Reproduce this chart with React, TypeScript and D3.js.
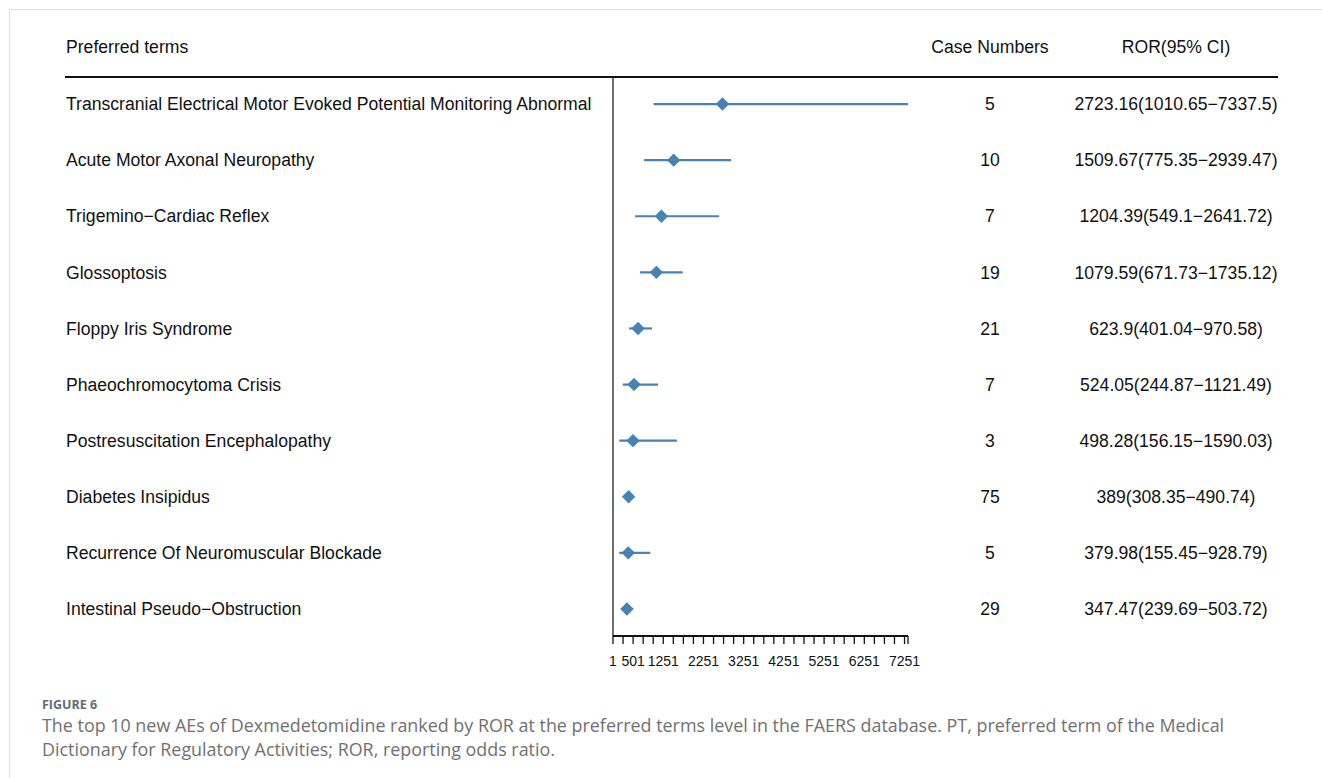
import * as d3 from 'd3'

const terms = [
  'Transcranial Electrical Motor Evoked Potential Monitoring Abnormal',
  'Acute Motor Axonal Neuropathy',
  'Trigemino\u2212Cardiac Reflex',
  'Glossoptosis',
  'Floppy Iris Syndrome',
  'Phaeochromocytoma Crisis',
  'Postresuscitation Encephalopathy',
  'Diabetes Insipidus',
  'Recurrence Of Neuromuscular Blockade',
  'Intestinal Pseudo\u2212Obstruction',
]
const caseNumbers = [5, 10, 7, 19, 21, 7, 3, 75, 5, 29]
const ror = [2723.16, 1509.67, 1204.39, 1079.59, 623.9, 524.05, 498.28, 389, 379.98, 347.47]
const lower = [1010.65, 775.35, 549.1, 671.73, 401.04, 244.87, 156.15, 308.35, 155.45, 239.69]
const upper = [7337.5, 2939.47, 2641.72, 1735.12, 970.58, 1121.49, 1590.03, 490.74, 928.79, 503.72]
const tickLabels = [1, 501, 1251, 2251, 3251, 4251, 5251, 6251, 7251]
const minorTicks = d3.range(1, 7252, 250)

const W = 1322
const H = 778
const FONT = '"Liberation Sans", Arial, sans-serif'
const BLUE = '#4682b4'

export default function App() {
  const x = d3.scaleLinear().domain([1, 7337.5]).range([613, 908])
  const y = d3.scaleBand<number>().domain(d3.range(terms.length)).range([76, 637])
  const rowY = (i: number) => (y(i) ?? 0) + y.bandwidth() / 2
  const diamond = d3.symbol().type(d3.symbolDiamond2).size(115)
  const axisY = 636
  const fmtCI = (i: number) => `${ror[i]}(${lower[i]}\u2212${upper[i]})`

  return (
    <>
      <style>{`body{margin:0}`}</style>
      <svg width={W} height={H} style={{ display: 'block', background: '#fff' }}>
        {/* frame */}
        <line x1={9} x2={W} y1={9.5} y2={9.5} stroke="#dcdcdc" />
        <line x1={9.5} x2={9.5} y1={9} y2={H} stroke="#dcdcdc" />

        {/* headers */}
        <g fontFamily={FONT} fontSize={17.6} fill="#111">
          <text x={66} y={53}>Preferred terms</text>
          <text x={990} y={53} textAnchor="middle">Case Numbers</text>
          <text x={1176} y={53} textAnchor="middle">ROR(95% CI)</text>
        </g>
        <line x1={65} x2={1278} y1={77} y2={77} stroke="#111" strokeWidth={2} />

        {/* rows */}
        <g fontFamily={FONT} fontSize={17.6} fill="#111">
          {terms.map((t, i) => (
            <g key={t}>
              <text x={66} y={rowY(i)} dy="0.35em">{t}</text>
              <text x={990} y={rowY(i)} dy="0.35em" textAnchor="middle">{caseNumbers[i]}</text>
              <text x={1176} y={rowY(i)} dy="0.35em" textAnchor="middle">{fmtCI(i)}</text>
            </g>
          ))}
        </g>

        {/* reference line */}
        <line x1={x(1)} x2={x(1)} y1={77} y2={axisY} stroke="#222" strokeWidth={1.3} />

        {/* CI lines and points */}
        {terms.map((t, i) => (
          <g key={`m-${t}`}>
            <line x1={x(lower[i])} x2={x(upper[i])} y1={rowY(i)} y2={rowY(i)} stroke={BLUE} strokeWidth={2.2} />
            <path d={diamond() ?? ''} transform={`translate(${x(ror[i])},${rowY(i)})`} fill={BLUE} />
          </g>
        ))}

        {/* x axis */}
        <line x1={x(1)} x2={x(7337.5)} y1={axisY} y2={axisY} stroke="#111" strokeWidth={2} />
        {[...minorTicks, 7337.5].map((v) => (
          <line key={`t${v}`} x1={x(v)} x2={x(v)} y1={axisY} y2={axisY + 8} stroke="#111" strokeWidth={1.3} />
        ))}
        <g fontFamily={FONT} fontSize={14} fill="#111">
          {tickLabels.map((v) => (
            <text key={`l${v}`} x={x(v)} y={axisY + 30} textAnchor="middle">{v}</text>
          ))}
        </g>

        {/* caption */}
        <text x={42} y={709} fontFamily='"Open Sans", sans-serif' fontSize={12.5} fontWeight={700} fill="#5f6b76">
          FIGURE 6
        </text>
        <g fontFamily='"Open Sans", sans-serif' fontSize={17.9} fill="#707070">
          <text x={42} y={732}>
            The top 10 new AEs of Dexmedetomidine ranked by ROR at the preferred terms level in the FAERS database. PT, preferred term of the Medical
          </text>
          <text x={42} y={756}>Dictionary for Regulatory Activities; ROR, reporting odds ratio.</text>
        </g>
      </svg>
    </>
  )
}
